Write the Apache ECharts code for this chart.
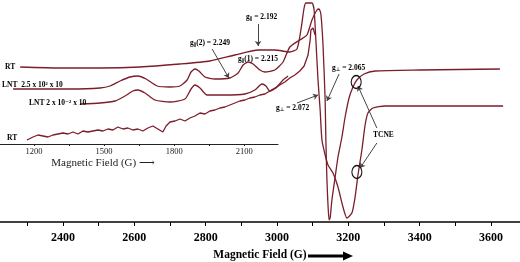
<!DOCTYPE html>
<html><head><meta charset="utf-8">
<script src="https://cdn.jsdelivr.net/npm/echarts@6/dist/echarts.min.js"></script>
<style>html,body{margin:0;padding:0;background:#fff}#c{width:520px;height:262px}</style>
</head><body><div id="c"></div>
<script>
// Main field axis (G)
var mainLabelValues = [2400, 2600, 2800, 3000, 3200, 3400, 3600];
var mainTickValues = [2300, 2400, 2500, 2600, 2700, 2800, 2900, 3000, 3100, 3200, 3300, 3400, 3500, 3600];
// Inset field axis (G)
var insetLabelValues = [1200, 1500, 1800, 2100];
var insetTickValues = [1200, 1350, 1500, 1650, 1800, 1950, 2100];

// Traces: [field (G), intensity (arb. units)]
var traceRT = [[2280,155],[2392,154],[2504,154],[2616,155],[2728,158],[2812,161],[2882,167],[2947,172],[2994,172],[3036,170],[3056,173],[3067,192],[3076,214],[3081,219],[3098,219],[3104,212],[3109,182],[3115,142],[3121,112],[3126,82],[3135,67],[3143,57],[3157,49],[3171,35],[3185,15],[3196,4],[3210,9],[3219,25],[3227,47],[3238,72],[3247,97],[3255,109],[3269,114],[3303,116],[3401,116],[3634,116]];
var traceLNT25 = [[2260,133],[2336,133],[2420,133],[2504,134],[2532,136],[2560,141],[2588,145],[2610,146],[2633,143],[2664,136],[2700,135],[2728,136],[2748,142],[2759,150],[2770,153],[2781,151],[2798,145],[2826,143],[2868,144],[2891,149],[2905,157],[2919,160],[2933,158],[2952,152],[2966,150],[2994,152],[3017,160],[3036,175],[3064,182],[3084,187],[3098,202],[3112,212],[3118,213],[3123,208],[3129,177],[3135,122],[3137,82],[3140,42],[3143,17],[3146,2],[3149,4],[3154,22],[3163,45],[3171,65],[3182,85],[3191,105],[3202,124],[3213,135],[3224,142],[3244,148],[3275,151],[3401,152],[3625,153]];
var traceLNT2 = [[2448,118],[2504,119],[2546,121],[2574,126],[2596,131],[2610,132],[2630,129],[2658,122],[2700,120],[2742,123],[2759,133],[2770,137],[2784,134],[2804,127],[2854,127],[2910,128],[2938,132],[2958,138],[2969,136],[2980,131],[2997,134],[3017,142],[3031,146]];
var traceRTinset = [[2299,82],[2316,85],[2330,87],[2344,86],[2358,85],[2372,87],[2386,88],[2400,89],[2414,88],[2428,90],[2442,88],[2456,91],[2470,90],[2484,91],[2498,92],[2512,91],[2526,93],[2540,92],[2554,95],[2568,93],[2582,94],[2596,92],[2610,93],[2624,91],[2638,94],[2652,96],[2666,93],[2680,90],[2689,96],[2700,100],[2714,101],[2728,103],[2742,101],[2756,104],[2770,106],[2784,109],[2798,108],[2812,111],[2826,112],[2840,114],[2854,115],[2868,117],[2882,119],[2896,121],[2910,122],[2924,124],[2938,125],[2952,127],[2966,128],[2980,131],[2994,134],[3008,137],[3022,140],[3036,144],[3050,147],[3064,151],[3076,156],[3087,167],[3093,182],[3095,192],[3101,194],[3107,187]];

// Annotation arrows [from, to] in data units
var arrows = [
  [[2947,198],[2947,176]],
  [[2818,173],[2865,144]],
  [[3174,148],[3140,121]],
  [[3056,119],[3115,127]],
  [[3280,94],[3227,136]],
  [[3280,79],[3233,54]]
];
var tcneCircles = [[3222,140],[3224,50]];

var serif = '"Liberation Serif","DejaVu Serif",serif';
var lineColor = '#7a1e2c';
var chart = echarts.init(document.getElementById('c'));
function trace(d, smooth) {
  return {type:'line', data:d, xAxisIndex:0, yAxisIndex:0, showSymbol:false, smooth:smooth,
    lineStyle:{color:lineColor, width:1.3}, silent:true, z:3};
}
function lbl(text, x, y) {
  return {type:'text', x:x, y:y, z:10, style:{text:text, font:'bold 7.5px ' + serif, fill:'#000', verticalAlign:'middle',
    rich:{s:{fontSize:5,fontWeight:'bold',fontFamily:'"DejaVu Sans",sans-serif',padding:[4,0,0,0],fill:'#000'}, n:{fontSize:7.5,fontWeight:'bold',fontFamily:serif,fill:'#000'}}}};
}
function plain(v){ return String(v); }
chart.setOption({
  animation:false,
  grid:[{left:0,right:0,top:0,bottom:40,containLabel:false,outerBoundsMode:'none'},
        {left:0,width:278,top:100,height:44,containLabel:false,outerBoundsMode:'none'}],
  xAxis:[{
    type:'value', gridIndex:0, min:2223.4, max:3681.3,
    axisLine:{lineStyle:{color:'#000',width:1.5}},
    axisTick:{show:true, length:4, lineStyle:{color:'#000',width:1}, customValues:mainTickValues},
    axisLabel:{customValues:mainLabelValues, formatter:plain, margin:10, color:'#000', fontWeight:'bold', fontSize:12, fontFamily:serif},
    splitLine:{show:false},
    name:'Magnetic Field (G)', nameLocation:'middle', nameGap:27,
    nameTextStyle:{color:'#000', fontWeight:'bold', fontSize:11.5, fontFamily:serif}
  },{
    type:'value', gridIndex:1, min:1054, max:2245,
    axisLine:{lineStyle:{color:'#222',width:1}},
    axisTick:{show:true, length:2, lineStyle:{color:'#222',width:1}, customValues:insetTickValues},
    axisLabel:{customValues:insetLabelValues, formatter:plain, margin:3, color:'#222', fontSize:8.5, fontFamily:serif},
    splitLine:{show:false},
    name:'Magnetic Field (G) \u27F6', nameLocation:'middle', nameGap:14,
    nameTextStyle:{color:'#222', fontSize:11, fontFamily:serif, padding:[0,72,0,0]}
  }],
  yAxis:[{type:'value', gridIndex:0, min:0, max:222, show:false},{type:'value', gridIndex:1, min:0, max:1, show:false}],
  series:[
    trace(traceRT, 0.2), trace(traceLNT25, 0.2), trace(traceLNT2, 0.2), trace(traceRTinset, false),
    {type:'line', data:[], xAxisIndex:1, yAxisIndex:1},
    {type:'line', data:[], xAxisIndex:0, yAxisIndex:0, silent:true, z:5,
      markLine:{silent:true, symbol:['none','arrow'], symbolSize:5, label:{show:false},
        lineStyle:{color:'#444', width:1, type:'solid'}, animation:false,
        data:arrows.map(function(a){return [{coord:a[0]},{coord:a[1]}];})},
      markPoint:{silent:true, symbol:'circle', symbolSize:[10,13], label:{show:false},
        itemStyle:{color:'rgba(0,0,0,0)', borderColor:'#111', borderWidth:1.2},
        data:tcneCircles.map(function(c){return {coord:c};})}
    }
  ],
  graphic:[
    lbl('RT', 5, 67),
    lbl('LNT  2.5 x 10\u00B2 x 10', 2, 85),
    lbl('LNT 2 x 10\u207B\u00B2 x 10', 29, 103),
    lbl('RT', 7, 138),
    lbl('{n|g}{s|\u2225}{n| = 2.192}', 246, 17),
    lbl('{n|g}{s|\u2225}{n|(2) = 2.249}', 190, 43),
    lbl('{n|g}{s|\u2225}{n|(1) = 2.215}', 238, 59),
    lbl('{n|g}{s|\u22A5}{n| = 2.065}', 332, 68),
    lbl('{n|g}{s|\u22A5}{n| = 2.072}', 276, 108),
    lbl('TCNE', 373, 135),
    {type:'group', z:10, children:[
      {type:'line', shape:{x1:308,y1:256,x2:345,y2:256}, style:{stroke:'#000', lineWidth:3}},
      {type:'polygon', shape:{points:[[343,251.5],[353,256],[343,260.5]]}, style:{fill:'#000'}}
    ]}
  ]
});
</script></body></html>
